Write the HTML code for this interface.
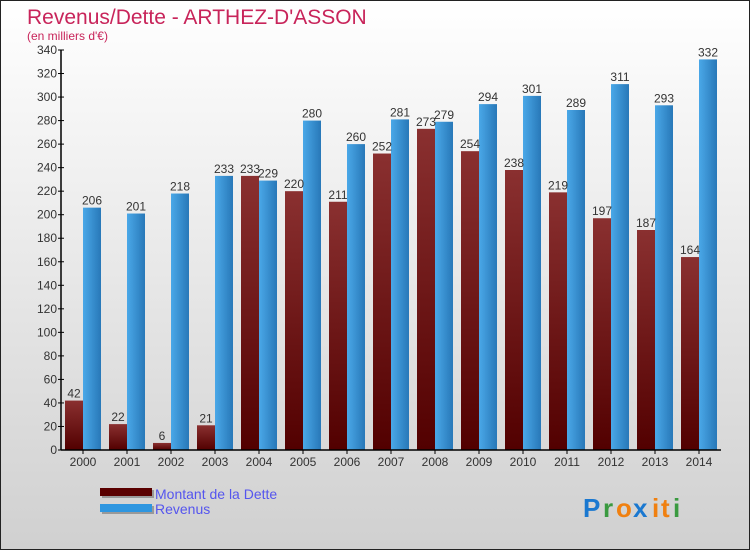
<!DOCTYPE html>
<html><head><meta charset="utf-8"><style>
body{margin:0;width:750px;height:550px;overflow:hidden;font-family:"Liberation Sans",sans-serif}
</style></head><body>
<svg width="750" height="550" xmlns="http://www.w3.org/2000/svg">
<defs>
<linearGradient id="bg" x1="0" y1="0" x2="0" y2="1"><stop offset="0" stop-color="#ffffff"/><stop offset="1" stop-color="#d0d0d0"/></linearGradient>
<linearGradient id="gd" x1="0" y1="0" x2="0" y2="1"><stop offset="0" stop-color="#8a3030"/><stop offset="1" stop-color="#520000"/></linearGradient>
<linearGradient id="gr" x1="0" y1="0" x2="1" y2="0"><stop offset="0" stop-color="#4aa8e8"/><stop offset="1" stop-color="#2878b8"/></linearGradient>
</defs>
<rect x="0.5" y="0.5" width="749" height="549" fill="url(#bg)" stroke="#222"/>
<text x="27" y="24" font-size="21" fill="#c8245a">Revenus/Dette - ARTHEZ-D'ASSON</text>
<text x="27" y="40" font-size="12" fill="#c8245a">(en milliers d'€)</text>
<g id="plot"></g>
<g>
<rect x="102" y="490" width="52" height="8" fill="#999"/><rect x="100" y="488" width="52" height="8" fill="#5a0000"/>
<text x="155" y="499" font-size="14" fill="#5555ee">Montant de la Dette</text>
<rect x="102" y="506" width="52" height="8" fill="#999"/><rect x="100" y="504" width="52" height="8" fill="#2e96e0"/>
<text x="155" y="514" font-size="14" fill="#5555ee">Revenus</text>
</g>
<g font-size="26" font-weight="bold">
<text x="583" y="517" fill="#1a78d0">P</text><text x="603" y="517" fill="#3a9a40">r</text><text x="616" y="517" fill="#f08010">o</text><text x="633" y="517" fill="#1a78d0">x</text><text x="652" y="517" fill="#f08010">i</text><text x="661" y="517" fill="#f08010">t</text><text x="673" y="517" fill="#3a9a40">i</text>
</g>
</svg>
<script>
const years=["2000","2001","2002","2003","2004","2005","2006","2007","2008","2009","2010","2011","2012","2013","2014"];
const dette=[42,22,6,21,233,220,211,252,273,254,238,219,197,187,164];
const revenus=[206,201,218,233,229,280,260,281,279,294,301,289,311,293,332];
const yTicks=[0,20,40,60,80,100,120,140,160,180,200,220,240,260,280,300,320,340];
const NS="http://www.w3.org/2000/svg";
const g=document.getElementById('plot');
const x0=61,x1=721,yb=450,yt=50,ymax=340;
const gw=(x1-x0)/years.length;
const y=v=>yb-(v/ymax)*(yb-yt);
function el(t,a,p){const e=document.createElementNS(NS,t);for(const k in a)e.setAttribute(k,a[k]);(p||g).appendChild(e);return e;}
yTicks.forEach(v=>{
 const t=el('text',{x:x0-4,y:y(v)+4,'font-size':12,fill:'#333','text-anchor':'end'});t.textContent=v;
 
 
 const l=el('line',{x1:x0-3,x2:x0+3,y1:y(v),y2:y(v),stroke:'#000'});
 
 
});
years.forEach((yr,i)=>{
 const cx=x0+gw*i+gw/2;
 const bw=18;
 const d=el('rect',{x:cx-bw,y:y(dette[i]),width:bw,height:yb-y(dette[i]),fill:'url(#gd)'});
 
 
 const r=el('rect',{x:cx,y:y(revenus[i]),width:bw,height:yb-y(revenus[i]),fill:'url(#gr)'});
 
 
 const dl=el('text',{x:cx-bw/2,y:y(dette[i])-3,'font-size':12,fill:'#333','text-anchor':'middle'});dl.textContent=dette[i];
 
 
 const rl=el('text',{x:cx+bw/2,y:y(revenus[i])-3,'font-size':12,fill:'#333','text-anchor':'middle'});rl.textContent=revenus[i];
 
 
 const xl=el('text',{x:cx,y:466,'font-size':12,fill:'#333','text-anchor':'middle'});xl.textContent=yr;
 
 
 const tk=el('line',{x1:cx,x2:cx,y1:yb,y2:yb+4,stroke:'#000'});
 
 
});
const ya=el('line',{x1:x0,x2:x0,y1:yt,y2:yb,stroke:'#000','stroke-width':1.5});


const xa=el('line',{x1:x0,x2:x1,y1:yb,y2:yb,stroke:'#000','stroke-width':1.5});


</script>
</body></html>
